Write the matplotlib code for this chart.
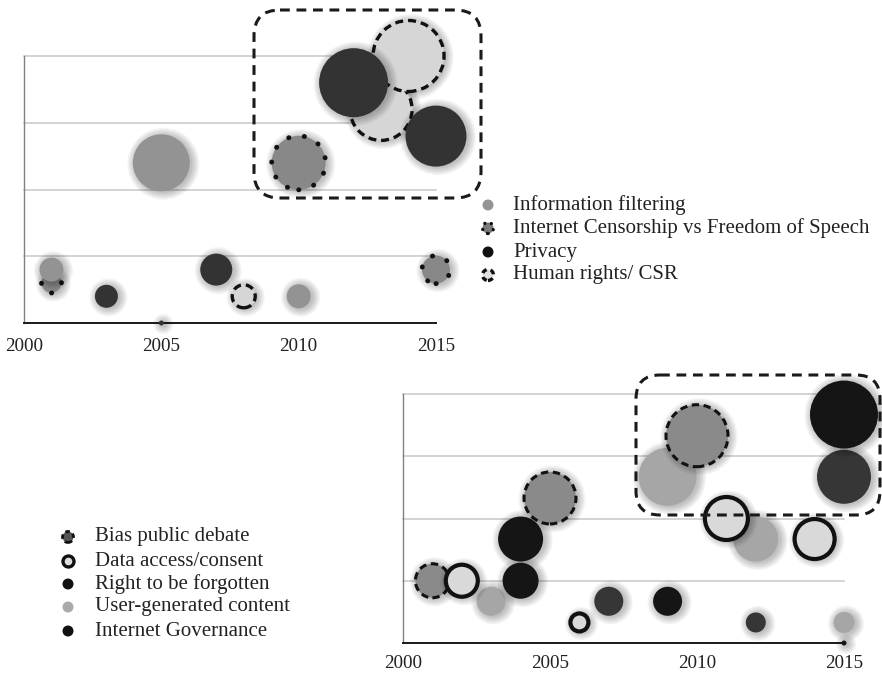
import matplotlib
matplotlib.use("Agg")
import matplotlib.pyplot as plt
from matplotlib.patches import FancyBboxPatch
from matplotlib.transforms import offset_copy

plt.rcParams["font.family"] = ["Liberation Serif", "DejaVu Serif"]

# ── top chart: year, level, bubble radius ──
info_year = [2001, 2005, 2010]
info_val = [0.8, 2.4, 0.4]
info_size = [12, 28.5, 12]

cens_year = [2001, 2010, 2015]
cens_val = [0.6, 2.4, 0.8]
cens_size = [10, 27, 14]

priv_year = [2003, 2005, 2007, 2012, 2015]
priv_val = [0.4, 0.0, 0.8, 3.6, 2.8]
priv_size = [11.5, 2.5, 16, 34.5, 30.5]

hr_year = [2008, 2013, 2014]
hr_val = [0.4, 3.2, 4.0]
hr_size = [11.5, 31, 35.5]

# ── bottom chart ──
bias_year = [2001, 2005, 2010]
bias_val = [1.0, 2.33, 3.33]
bias_size = [17, 26, 31]

data_year = [2002, 2006, 2011, 2014]
data_val = [1.0, 0.33, 2.0, 1.67]
data_size = [16, 9, 21.5, 20]

rtbf_year = [2004, 2004, 2009, 2015, 2015]
rtbf_val = [1.67, 1.0, 0.67, 3.67, 0.0]
rtbf_size = [22.5, 18, 14.5, 34, 2.5]

ugc_year = [2003, 2009, 2012, 2015]
ugc_val = [0.67, 2.67, 1.67, 0.33]
ugc_size = [14.5, 29, 22.5, 10.5]

gov_year = [2007, 2012, 2015]
gov_val = [0.67, 0.33, 2.67]
gov_size = [14.5, 10, 27]

YEARS = [2000, 2005, 2010, 2015]
TOP_LABELS = ["Information filtering", "Internet Censorship vs Freedom of Speech",
              "Privacy", "Human rights/ CSR"]
BOTTOM_LABELS = ["Bias public debate", "Data access/consent", "Right to be forgotten",
                 "User-generated content", "Internet Governance"]

W, H, DPI = 882, 674, 100
fig = plt.figure(figsize=(W / DPI, H / DPI), dpi=DPI)
PT = 72 / DPI


def area(r):
    return [(2 * v * PT) ** 2 for v in r]


def bubbles(ax, x, y, r, face, edge="none", lw=0.0, ls="solid", cap="butt", z=3, shadow=True):
    if shadow:
        sh = offset_copy(ax.transData, fig=fig, x=2, y=-1, units="dots")
        for k in range(6):
            ax.scatter(x, y, s=area([v + 0.5 + 1.4 * k for v in r]), color="black", alpha=0.045,
                       linewidths=0, transform=sh, zorder=z - 0.5, clip_on=False)
    ax.scatter(x, y, s=area(r), color=face, edgecolors=edge, linewidths=lw, linestyles=ls,
               capstyle=cap, zorder=z, clip_on=False)


def make_axes(l, r, t, b):
    ax = fig.add_axes([l / W, 1 - b / H, (r - l) / W, (b - t) / H])
    ax.set_xlim(2000, 2015); ax.set_ylim(0, 4)
    ax.set_yticks([1, 2, 3, 4]); ax.set_yticklabels([])
    ax.set_xticks(YEARS); ax.set_xticklabels([str(y) for y in YEARS], fontsize=13.8, color="#222222")
    ax.tick_params(length=0)
    ax.yaxis.grid(True, color="#c8c8c8", lw=1.1, clip_on=False)
    ax.set_axisbelow(True)
    for s in ("top", "right"):
        ax.spines[s].set_visible(False)
    ax.spines["left"].set_color("#808080"); ax.spines["left"].set_linewidth(1.0)
    ax.spines["bottom"].set_color("#1a1a1a"); ax.spines["bottom"].set_linewidth(1.4)
    ax.patch.set_alpha(0)
    return ax


DOT = (0, (0.05, 3.2))
DASH = (0, (2.4, 1.5))

# top chart
ax1 = make_axes(24, 436, 56, 323)
ax1.tick_params(axis="x", pad=11)
bubbles(ax1, cens_year, cens_val, cens_size, "#888888", edge="#111111", lw=3.5, ls=DOT, cap="round", z=3)
bubbles(ax1, info_year, info_val, info_size, "#939393", z=4)
bubbles(ax1, hr_year, hr_val, hr_size, "#d6d6d6", edge="#111111", lw=2.4, ls=DASH, z=5)
bubbles(ax1, priv_year, priv_val, priv_size, "#333333", z=6)

# bottom chart
ax2 = make_axes(403, 844, 394, 643)
ax2.tick_params(axis="x", pad=9)
bubbles(ax2, ugc_year, ugc_val, ugc_size, "#a6a6a6", z=3)
bubbles(ax2, gov_year, gov_val, gov_size, "#363636", z=4)
bubbles(ax2, rtbf_year, rtbf_val, rtbf_size, "#151515", z=5)
bubbles(ax2, bias_year, bias_val, bias_size, "#8a8a8a", edge="#111111", lw=2.2, ls=DASH, z=6)
bubbles(ax2, data_year, data_val, data_size, "#d9d9d9", edge="#111111", lw=3.0, z=7)

# overlay in pixel units: highlight boxes + legends
ov = fig.add_axes([0, 0, 1, 1], zorder=10)
ov.set_xlim(0, W); ov.set_ylim(H, 0); ov.axis("off"); ov.patch.set_alpha(0)
for (x0, y0, x1, y1, rs) in [(254, 10, 481, 198, 26), (636, 375, 880, 515, 24)]:
    ov.add_patch(FancyBboxPatch((x0, y0), x1 - x0, y1 - y0,
                                boxstyle=f"round,pad=0,rounding_size={rs}",
                                fill=False, ec="#1a1a1a", lw=2.2, ls=(0, (3.2, 2.2))))

top_rows = [205, 228, 252, 275]
top_style = [dict(face="#939393"),
             dict(face="#7a7a7a", edge="#111111", lw=2.4, ls=(0, (0.05, 2.0)), cap="round"),
             dict(face="#111111"),
             dict(face="#e0e0e0", edge="#111111", lw=2.4, ls=(0, (1.6, 1.2)))]
for lab, yy, st in zip(TOP_LABELS, top_rows, top_style):
    bubbles(ov, [488], [yy], [5.5], shadow=False, **st)
    ov.text(513, yy, lab, fontsize=15, color="#222222", va="center", ha="left")

bot_rows = [537, 561, 584, 607, 631]
bot_style = [dict(face="#555555", edge="#111111", lw=2.0, ls=(0, (1.6, 1.2))),
             dict(face="#dddddd", edge="#111111", lw=2.4),
             dict(face="#111111"),
             dict(face="#aaaaaa"),
             dict(face="#111111")]
for lab, yy, st in zip(BOTTOM_LABELS, bot_rows, bot_style):
    bubbles(ov, [68], [yy], [5.5], shadow=False, **st)
    ov.text(95, yy, lab, fontsize=15, color="#222222", va="center", ha="left")

fig.savefig("out.png", dpi=DPI, facecolor="white")
